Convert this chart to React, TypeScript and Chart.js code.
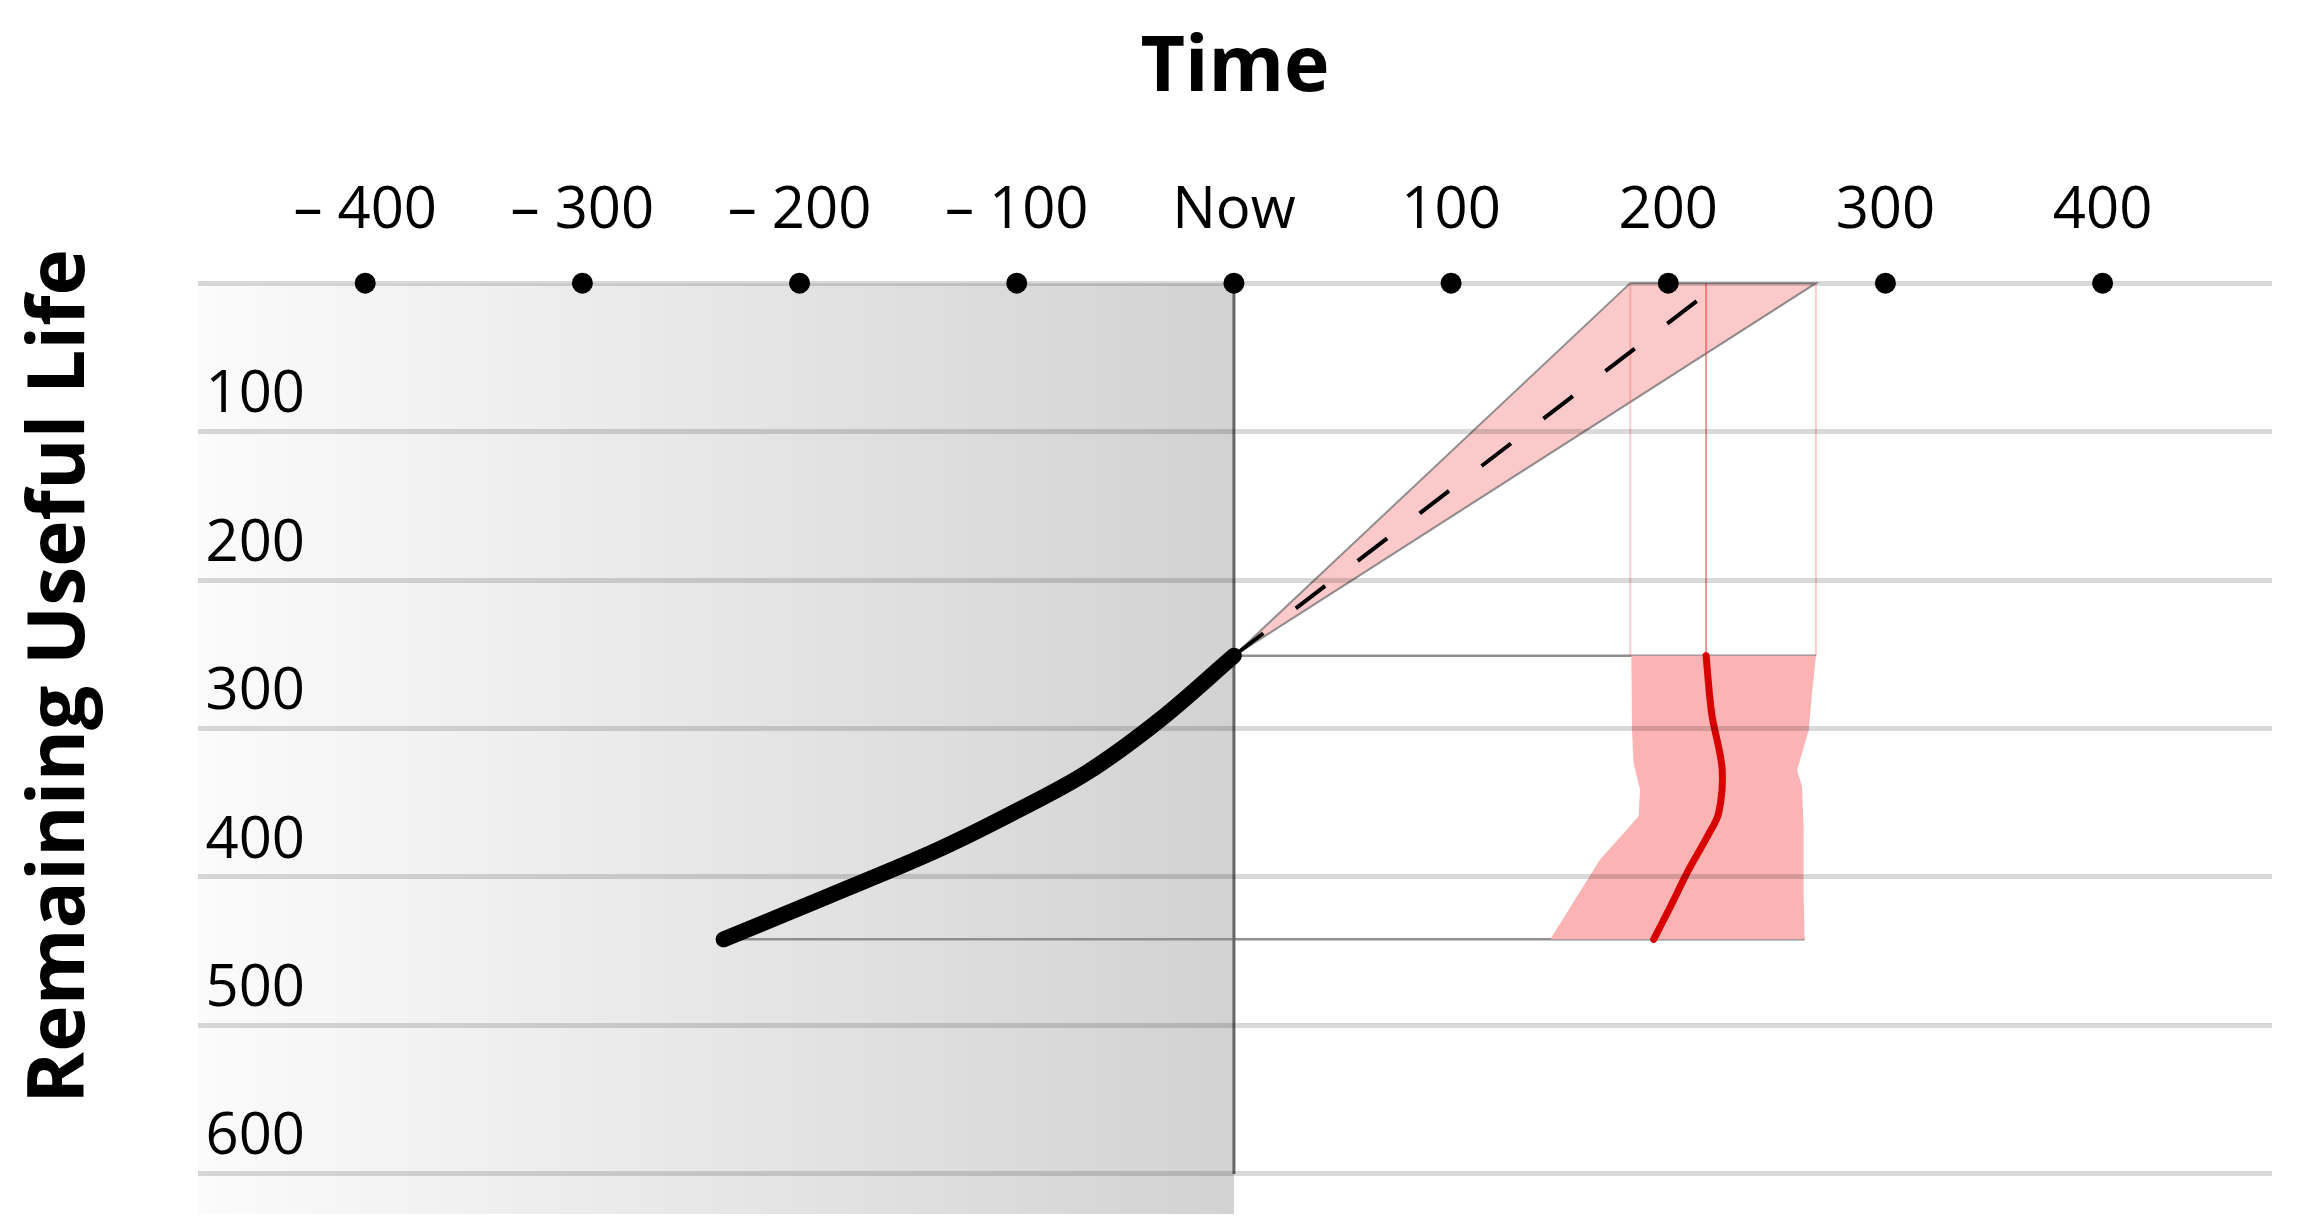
import React, { useEffect, useRef } from 'react';
import { Chart, registerables } from 'chart.js';

Chart.register(...registerables);

// ---- axis values ----
const X_TICKS = [-400, -300, -200, -100, 0, 100, 200, 300, 400];
const Y_TICKS = [0, 100, 200, 300, 400, 500, 600];
const X_MIN = -477;
const X_MAX = 478;
const Y_MIN = -23;
const Y_MAX = 627;
const NOW = 0;
const NOW_RUL_END = 600;

// ---- observed degradation history (time, remaining useful life) ----
const HISTORY_T = [-235, -187, -136, -102, -68, -34, 0];
const HISTORY_RUL = [442, 413, 381.5, 357, 330, 294, 251];

// ---- forecast cone ----
const CONE_T = [0, 182.5, 268, 0];
const CONE_RUL = [251, 0, 0, 251];
const MEAN_T = [0, 215];
const MEAN_RUL = [251, 10];

// ---- projection lines (time at which RUL reaches 0) ----
const PROJ_T_EDGES = [182.5, 268];
const PROJ_T_MID = [217.4];
const PROJ_RUL = [0, 251];

// ---- predicted distribution ----
const DIST_LEFT_RUL = [251, 301, 323, 341, 359, 368, 388, 413, 442];
const DIST_LEFT_T = [183, 183.3, 184, 187, 186.4, 181, 168.7, 158, 145.7];
const DIST_RIGHT_RUL = [442, 413, 368, 339, 328, 301, 276, 251];
const DIST_RIGHT_T = [262.8, 262.3, 262.3, 261.6, 259.3, 264.7, 266.2, 268];
const MEDIAN_RUL = [251, 290, 327, 357, 373, 397, 420, 442];
const MEDIAN_T = [217.4, 220, 224.8, 223.2, 217.9, 208.7, 201, 193.3];

// ---- connector lines ----
const CONNECT_TOP_T = [0, 268];
const CONNECT_TOP_RUL = [251, 251];
const CONNECT_BOT_T = [-235, 262.8];
const CONNECT_BOT_RUL = [442, 442];

const pts = (xs: number[], ys: number[]) => xs.map((x, i) => ({ x, y: ys[i] }));

export default function App() {
  const ref = useRef<HTMLCanvasElement>(null);

  useEffect(() => {
    const canvas = ref.current!;
    Chart.defaults.font.family = "'Open Sans', 'Noto Sans', sans-serif";
    Chart.defaults.color = '#000';

    const base = { pointRadius: 0, pointHoverRadius: 0, fill: false, tension: 0 };

    const datasets: any[] = [
      {
        ...base,
        label: 'ticks',
        data: X_TICKS.map((x) => ({ x, y: 0 })),
        showLine: false,
        pointRadius: 10.5,
        pointHoverRadius: 10.5,
        pointBackgroundColor: '#000',
        pointBorderWidth: 0,
        order: 0,
      },
      {
        ...base,
        label: 'history',
        data: pts(HISTORY_T, HISTORY_RUL),
        borderColor: '#000',
        borderWidth: 16,
        borderCapStyle: 'round',
        borderJoinStyle: 'round',
        cubicInterpolationMode: 'monotone',
        order: 1,
      },
      {
        ...base,
        label: 'median',
        data: pts(MEDIAN_T, MEDIAN_RUL),
        borderColor: '#d90000',
        borderWidth: 7,
        borderCapStyle: 'round',
        borderJoinStyle: 'round',
        tension: 0.3,
        order: 2,
      },
      {
        ...base,
        label: 'mean',
        data: pts(MEAN_T, MEAN_RUL),
        borderColor: '#000',
        borderWidth: 4,
        borderDash: [37, 41],
        order: 3,
      },
      {
        ...base,
        label: 'now',
        data: pts([NOW, NOW], [0, NOW_RUL_END]),
        borderColor: '#666',
        borderWidth: 3,
        order: 4,
      },
      ...PROJ_T_MID.map((t) => ({
        ...base,
        label: 'proj-mid',
        data: pts([t, t], PROJ_RUL),
        borderColor: 'rgba(240,60,60,0.55)',
        borderWidth: 2,
        order: 5,
      })),
      ...PROJ_T_EDGES.map((t) => ({
        ...base,
        label: 'proj-edge',
        data: pts([t, t], PROJ_RUL),
        borderColor: 'rgba(255,90,90,0.3)',
        borderWidth: 2,
        order: 6,
      })),
      {
        ...base,
        label: 'distribution',
        data: [...pts(DIST_LEFT_T, DIST_LEFT_RUL), ...pts(DIST_RIGHT_T, DIST_RIGHT_RUL)],
        borderColor: 'rgba(0,0,0,0)',
        borderWidth: 1,
        backgroundColor: '#fbb3b3',
        fill: 'shape',
        order: 7,
      },
      {
        ...base,
        label: 'connect-top',
        data: pts(CONNECT_TOP_T, CONNECT_TOP_RUL),
        borderColor: '#8f8f8f',
        borderWidth: 2.5,
        order: 7.5,
      },
      {
        ...base,
        label: 'connect-bottom',
        data: pts(CONNECT_BOT_T, CONNECT_BOT_RUL),
        borderColor: '#8f8f8f',
        borderWidth: 2.5,
        order: 7.5,
      },
      {
        ...base,
        label: 'cone',
        data: pts(CONE_T, CONE_RUL),
        borderColor: 'rgba(110,110,110,0.75)',
        borderWidth: 2,
        backgroundColor: 'rgba(245,120,120,0.4)',
        fill: 'shape',
        order: 8,
      },
      {
        ...base,
        label: 'past',
        data: pts([X_MIN, NOW], [0, 0]),
        borderColor: 'rgba(0,0,0,0)',
        borderWidth: 1,
        fill: { value: Y_MAX },
        backgroundColor: (ctx: any) => {
          const chart = ctx.chart;
          const area = chart.chartArea;
          const xs = chart.scales && chart.scales.x;
          if (!area || !xs) return 'rgba(0,0,0,0.1)';
          const x0 = xs.getPixelForValue(X_MIN);
          const x1 = xs.getPixelForValue(NOW);
          const g = chart.ctx.createLinearGradient(x0, 0, x1, 0);
          g.addColorStop(0, 'rgba(0,0,0,0.015)');
          g.addColorStop(1, 'rgba(0,0,0,0.175)');
          return g;
        },
        order: 9,
      },
    ];

    const chart = new Chart(canvas, {
      type: 'line',
      data: { datasets },
      options: {
        animation: false,
        responsive: false,
        devicePixelRatio: 1,
        events: [],
        layout: { autoPadding: false, padding: { left: 0, right: 22, top: 0, bottom: 0 } },
        plugins: {
          legend: { display: false },
          tooltip: { enabled: false },
        },
        scales: {
          x: {
            type: 'linear',
            position: 'top',
            min: X_MIN,
            max: X_MAX,
            afterBuildTicks: (s: any) => {
              s.ticks = X_TICKS.map((v) => ({ value: v }));
            },
            afterFit: (s: any) => {
              s.paddingLeft = 0;
              s.paddingRight = 0;
              s.paddingTop = 0;
              s.paddingBottom = 0;
              s.height = 241;
            },
            ticks: {
              autoSkip: false,
              maxRotation: 0,
              padding: 3,
              color: '#000',
              font: { size: 58 },
              callback: (v: any) => {
                const n = Number(v);
                if (n === 0) return 'Now';
                if (n < 0) return '\u2013 ' + Math.abs(n);
                return String(n);
              },
            },
            grid: { display: false, drawTicks: false },
            border: { display: false },
            title: {
              display: true,
              text: 'Time',
              color: '#000',
              font: { size: 77, weight: 'bold', lineHeight: 1.2 },
              padding: { top: 15, bottom: 50 },
            },
          },
          y: {
            type: 'linear',
            position: 'left',
            reverse: true,
            min: Y_MIN,
            max: Y_MAX,
            weight: 0,
            afterBuildTicks: (s: any) => {
              s.ticks = Y_TICKS.map((v) => ({ value: v }));
            },
            afterFit: (s: any) => {
              s.paddingLeft = 0;
              s.paddingRight = 0;
              s.paddingTop = 0;
              s.paddingBottom = 0;
              s.width = 6;
            },
            ticks: {
              autoSkip: false,
              mirror: true,
              padding: 7.5,
              labelOffset: -36,
              color: '#000',
              font: { size: 58 },
              callback: (v: any) => (Number(v) === 0 ? '' : String(v)),
            },
            grid: { color: 'rgba(0,0,0,0.15)', lineWidth: 5, drawTicks: false, z: 1 },
            border: { display: false },
          },
          yTitle: {
            type: 'linear',
            position: 'left',
            weight: 1,
            min: 0,
            max: 1,
            ticks: { display: false },
            grid: { display: false, drawTicks: false },
            border: { display: false },
            afterFit: (s: any) => {
              s.paddingLeft = 0;
              s.paddingRight = 0;
              s.paddingTop = 0;
              s.paddingBottom = 0;
              s.width = 184;
            },
            title: {
              display: true,
              text: 'Remaining Useful Life',
              align: 'end',
              color: '#000',
              font: { size: 78.5, weight: 'bold', lineHeight: 1 },
              padding: { top: 14, bottom: 90 },
            },
          },
        },
      } as any,
    });

    return () => chart.destroy();
  }, []);

  return (
    <canvas
      ref={ref}
      width={2286}
      height={1206}
      style={{ display: 'block', width: '2286px', height: '1206px' }}
    />
  );
}
